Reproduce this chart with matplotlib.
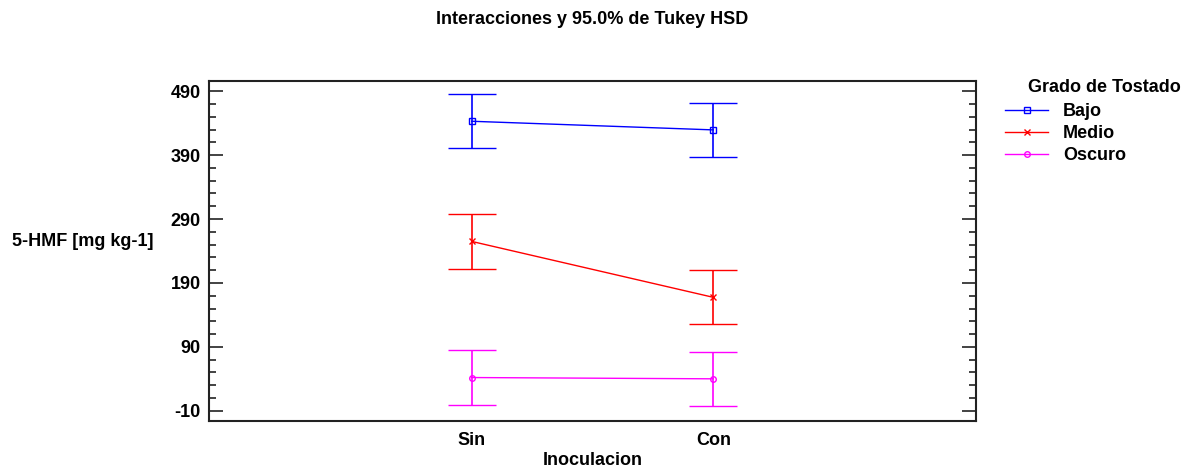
import numpy as np
import matplotlib.pyplot as plt
from matplotlib.lines import Line2D

plt.rcParams['font.family'] = ['Liberation Sans', 'DejaVu Sans']
plt.rcParams['font.weight'] = 'bold'
plt.rcParams['axes.unicode_minus'] = False

inoculacion = ['Sin', 'Con']
grados = ['Bajo', 'Medio', 'Oscuro']
medias_bajo = [443.0, 429.5]
medias_medio = [255.0, 167.5]
medias_oscuro = [42.0, 40.0]
hsd_intervalo = 42.5

series = [medias_bajo, medias_medio, medias_oscuro]
colores = ['#0000ff', '#ff0000', '#ff00ff']
marcadores = ['s', 'x', 'o']
tamanos = [4, 5, 4]

fig = plt.figure(figsize=(11.92, 4.70), dpi=100)
ax = fig.add_axes([209 / 1192, 49 / 470, 767 / 1192, 340 / 470])

x = np.arange(len(inoculacion))
handles = []
for medias, color, m, ms, nombre in zip(series, colores, marcadores, tamanos, grados):
    ax.errorbar(x, medias, yerr=hsd_intervalo, color=color, lw=1.0,
                elinewidth=1.2, capsize=17, capthick=1.2,
                marker=m, ms=ms, mfc='none', mec=color, mew=1.0)
    handles.append(Line2D([], [], color=color, lw=1.0, marker=m, ms=ms,
                          mfc='none', mec=color, mew=1.0, label=nombre))

ax.set_xlim(-1.087, 2.087)
ax.set_ylim(-26, 506)
ax.set_xticks(x)
ax.set_xticklabels(inoculacion)
ax.set_yticks(np.arange(-10, 491, 100))
ax.set_yticks(np.arange(-10, 491, 20), minor=True)
ax.tick_params(axis='y', which='both', direction='in', left=True, right=True,
               labelsize=13, pad=6, width=1.2, color='#222222')
ax.tick_params(axis='y', which='major', length=10)
ax.tick_params(axis='y', which='minor', length=5)
ax.tick_params(axis='x', length=0, labelsize=13, pad=8)
for s in ax.spines.values():
    s.set_linewidth(1.5)
    s.set_color('#222222')

ax.set_xlabel('Inoculacion', fontsize=13, fontweight='bold', labelpad=2)
fig.text(12 / 1192, 1 - 241 / 470, '5-HMF [mg kg-1]', fontsize=13,
         fontweight='bold', ha='left', va='center')
fig.text(592 / 1192, 1 - 19 / 470, 'Interacciones y 95.0% de Tukey HSD',
         fontsize=13, fontweight='bold', ha='center', va='center')

fig.text(1104 / 1192, 1 - 88 / 470, 'Grado de Tostado', fontsize=13,
         fontweight='bold', ha='center', va='center')
ax.legend(handles=handles, loc='upper left',
          bbox_to_anchor=(1005 / 1192, 1 - 103 / 470),
          bbox_transform=fig.transFigure, frameon=False, fontsize=13,
          handlelength=2.4, handletextpad=0.8, labelspacing=0.28,
          borderpad=0, borderaxespad=0)

fig.savefig('out.png', dpi=100)
